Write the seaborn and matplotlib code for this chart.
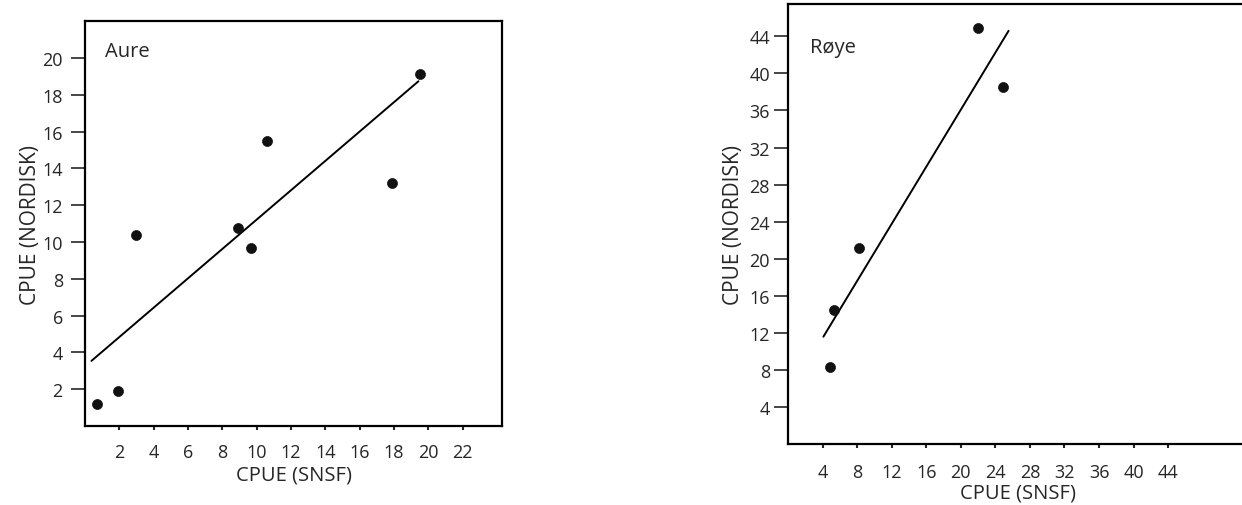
import seaborn as sns
import matplotlib.pyplot as plt

# Aure (trout) panel
aure_snsf = [0.68, 1.93, 2.98, 8.93, 9.69, 10.58, 17.88, 19.51]
aure_nordisk = [1.19, 1.91, 10.36, 10.76, 9.67, 15.51, 13.23, 19.10]
aure_fit_x = [0.37, 19.43]
aure_fit_y = [3.54, 18.73]
aure_xticks = [2, 4, 6, 8, 10, 12, 14, 16, 18, 20, 22]
aure_yticks = [2, 4, 6, 8, 10, 12, 14, 16, 18, 20]

# Røye (char) panel
roye_snsf = [4.82, 5.36, 8.21, 22.03, 24.92]
roye_nordisk = [8.26, 14.47, 21.20, 44.90, 38.56]
roye_fit_x = [4.09, 25.53]
roye_fit_y = [11.58, 44.60]
roye_xticks = [4, 8, 12, 16, 20, 24, 28, 32, 36, 40, 44]
roye_yticks = [4, 8, 12, 16, 20, 24, 28, 32, 36, 40, 44]

sns.set_style("ticks")
plt.rcParams["font.family"] = ["Open Sans", "DejaVu Sans"]

fig = plt.figure(figsize=(12.42, 5.06), dpi=100)
ax1 = fig.add_axes([0.0685, 0.156, 0.3357, 0.8004])
ax2 = fig.add_axes([0.6345, 0.1206, 0.37, 0.8696])


def draw_panel(ax, xs, ys, fx, fy, xticks, yticks, xlim, ylim, name, name_pos,
               xpad, ypad, xlpad, ylpad):
    sns.scatterplot(x=xs, y=ys, ax=ax, color="#111111", s=52,
                    edgecolor="#111111", linewidth=0.5, zorder=3)
    sns.lineplot(x=fx, y=fy, ax=ax, color="black", linewidth=1.4)
    ax.set_xlim(*xlim)
    ax.set_ylim(*ylim)
    ax.set_xticks(xticks)
    ax.set_yticks(yticks)
    ax.tick_params(axis="x", length=3, width=1.5, pad=xpad, labelsize=13)
    ax.tick_params(axis="y", length=10, width=1.2, pad=ypad, labelsize=13)
    ax.set_xlabel("CPUE (SNSF)", fontsize=14.5, labelpad=xlpad)
    ax.set_ylabel("CPUE (NORDISK)", fontsize=15, labelpad=ylpad)
    for sp in ax.spines.values():
        sp.set_visible(True)
        sp.set_linewidth(1.6)
        sp.set_color("black")
    ax.text(name_pos[0], name_pos[1], name, transform=ax.transAxes,
            fontsize=14.5, va="center", ha="left")


draw_panel(ax1, aure_snsf, aure_nordisk, aure_fit_x, aure_fit_y,
           aure_xticks, aure_yticks, (0, 24.3), (0, 22), "Aure",
           (0.047, 0.925), 9, 6, 3, 1)
draw_panel(ax2, roye_snsf, roye_nordisk, roye_fit_x, roye_fit_y,
           roye_xticks, roye_yticks, (0, 53.2), (0, 47.5), "Røye",
           (0.047, 0.903), 11, 3, 1, 4)

fig.savefig("out.png", dpi=100)
